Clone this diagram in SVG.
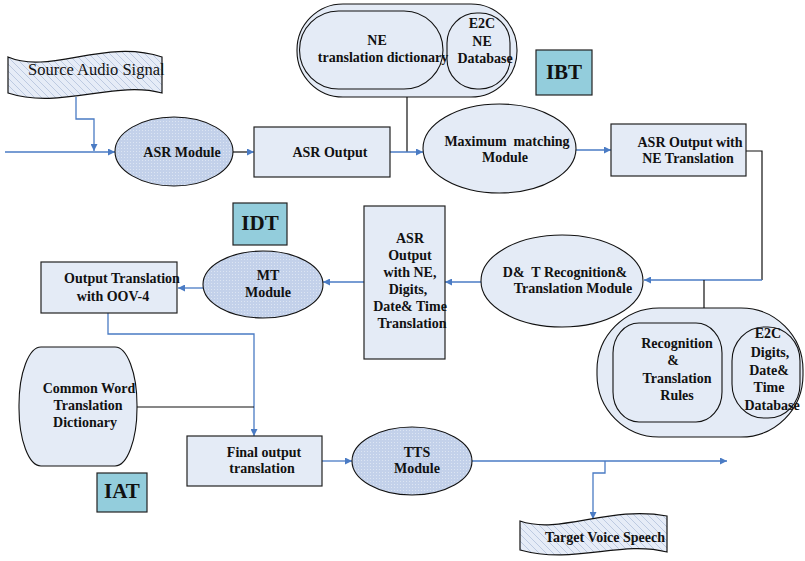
<svg xmlns="http://www.w3.org/2000/svg" width="805" height="561" viewBox="0 0 805 561" font-family="'Liberation Serif', 'DejaVu Serif', serif">
  <defs>
    <style>
      text { font-family: 'Liberation Serif', 'DejaVu Serif', serif; }
      .lbl { font-weight: bold; font-size: 14px; fill: #111; text-anchor: middle; }
      .tag { font-weight: bold; font-size: 21px; fill: #111; text-anchor: middle; }
      .plain { font-size: 16.5px; fill: #111; }
      .box { fill: #E4EBF6; stroke: #222; stroke-width: 1.2; }
      .soft { fill: #E4EBF6; stroke: #111; stroke-width: 1.1; }
      .dotted { fill: url(#dots); stroke: #111; stroke-width: 1.1; }
      .tape { fill: url(#hatch); stroke: #111; stroke-width: 1.2; }
      .teal { fill: #93CDDC; stroke: #222; stroke-width: 1.2; }
      .flow { fill: none; stroke: #4A7BC4; stroke-width: 1.3; }
      .link { fill: none; stroke: #111; stroke-width: 1.2; }
    </style>
    <pattern id="dots" patternUnits="userSpaceOnUse" width="3" height="3">
      <rect width="3" height="3" fill="#C3D1EA"/>
      <rect x="1" y="1" width="1" height="1" fill="#DCE5F3"/>
    </pattern>
    <pattern id="hatch" patternUnits="userSpaceOnUse" width="7" height="7">
      <rect width="7" height="7" fill="#E6ECF7"/>
      <path d="M0,0 L7,7 M-1,6 L1,8 M6,-1 L8,1" stroke="#B2C2DC" stroke-width="0.8"/>
    </pattern>
    <marker id="arr" viewBox="0 0 10 10" refX="10" refY="5" markerWidth="7" markerHeight="7" orient="auto" markerUnits="userSpaceOnUse">
      <path d="M0,0 L10,5 L0,10 Z" fill="#4A7BC4"/>
    </marker>
  </defs>

  <rect width="805" height="561" fill="#FFFFFF"/>

  <!-- connectors -->
  <g id="connectors">
    <path class="flow" d="M5,152 H115" marker-end="url(#arr)"/>
    <path class="flow" d="M76,97 V119 H94 V151" marker-end="url(#arr)"/>
    <path class="link" d="M233,152 H248"/>
    <path class="flow" d="M247,152 H254" marker-end="url(#arr)"/>
    <path class="link" d="M407,97 V152"/>
    <path class="flow" d="M390,152 H423" marker-end="url(#arr)"/>
    <path class="flow" d="M576,150 H611" marker-end="url(#arr)"/>
    <path class="link" d="M746,151 H762 V280"/>
    <path class="flow" d="M762,280 H644" marker-end="url(#arr)"/>
    <path class="link" d="M704,280 V308"/>
    <path class="flow" d="M481,282 H445" marker-end="url(#arr)"/>
    <path class="flow" d="M364,282 H323" marker-end="url(#arr)"/>
    <path class="flow" d="M203,288 H178" marker-end="url(#arr)"/>
    <path class="flow" d="M108,313 V334 H254 V436" marker-end="url(#arr)"/>
    <path class="link" d="M137,407 H254"/>
    <path class="flow" d="M322,461 H352" marker-end="url(#arr)"/>
    <path class="flow" d="M472,461 H727" marker-end="url(#arr)"/>
    <path class="flow" d="M605,461 V473 H593 V519" marker-end="url(#arr)"/>
  </g>

  <!-- source signal -->
  <g id="source-audio">
    <path class="tape" d="M8,57 C50,75 105,38 162,57 L162,93 C115,80 60,110 8,93 Z"/>
    <text class="plain" x="28" y="75">Source Audio Signal</text>
  </g>

  <g id="asr-module">
    <ellipse class="dotted" cx="174" cy="151.5" rx="59" ry="34.5"/>
    <text class="lbl" x="182" y="157">ASR Module</text>
  </g>

  <g id="asr-output">
    <rect class="box" x="254" y="127" width="136" height="50"/>
    <text class="lbl" x="330" y="157">ASR Output</text>
  </g>

  <g id="ne-resources">
    <rect class="soft" x="297" y="4" width="220" height="93" rx="46" ry="46"/>
    <rect class="soft" x="299.5" y="11" width="143.5" height="78" rx="39" ry="39"/>
    <rect class="soft" x="447" y="13" width="63" height="76" rx="30" ry="30"/>
    <text class="lbl" x="377" y="45">NE</text>
    <text class="lbl" x="383" y="62">translation dictionary</text>
    <text class="lbl" x="482" y="28">E2C</text>
    <text class="lbl" x="482" y="46">NE</text>
    <text class="lbl" x="485" y="63">Database</text>
  </g>

  <g id="ibt">
    <rect class="teal" x="536" y="50" width="56" height="45"/>
    <text class="tag" x="564" y="79">IBT</text>
  </g>

  <g id="max-matching">
    <ellipse class="soft" cx="499.5" cy="148.5" rx="76.5" ry="44.5"/>
    <text class="lbl" x="507" y="146" xml:space="preserve">Maximum  matching</text>
    <text class="lbl" x="505" y="162">Module</text>
  </g>

  <g id="asr-ne">
    <rect class="box" x="611" y="124" width="135" height="52"/>
    <text class="lbl" x="690" y="147">ASR Output with</text>
    <text class="lbl" x="688" y="163">NE Translation</text>
  </g>

  <g id="dt-module">
    <ellipse class="soft" cx="562" cy="281" rx="81" ry="46"/>
    <text class="lbl" x="565" y="277" xml:space="preserve">D&amp;  T Recognition&amp;</text>
    <text class="lbl" x="573" y="293">Translation Module</text>
  </g>

  <g id="dt-resources">
    <rect class="soft" x="597" y="308" width="206" height="129" rx="62" ry="62"/>
    <rect class="soft" x="613" y="323" width="109" height="99" rx="26" ry="30"/>
    <rect class="soft" x="732" y="327" width="68" height="91" rx="32" ry="34"/>
    <text class="lbl" x="677" y="348">Recognition</text>
    <text class="lbl" x="673" y="365">&amp;</text>
    <text class="lbl" x="677" y="383">Translation</text>
    <text class="lbl" x="677" y="400">Rules</text>
    <text class="lbl" x="768" y="338">E2C</text>
    <text class="lbl" x="770" y="357">Digits,</text>
    <text class="lbl" x="769" y="375">Date&amp;</text>
    <text class="lbl" x="769" y="392">Time</text>
    <text class="lbl" x="772" y="410">Database</text>
  </g>

  <g id="asr-full">
    <rect class="box" x="364" y="206" width="81" height="153"/>
    <text class="lbl" x="410" y="243">ASR</text>
    <text class="lbl" x="410" y="260">Output</text>
    <text class="lbl" x="410" y="277">with NE,</text>
    <text class="lbl" x="408" y="294">Digits,</text>
    <text class="lbl" x="410" y="311">Date&amp; Time</text>
    <text class="lbl" x="412" y="328">Translation</text>
  </g>

  <g id="idt">
    <rect class="teal" x="233" y="203" width="54" height="42"/>
    <text class="tag" x="260" y="230">IDT</text>
  </g>

  <g id="mt-module">
    <ellipse class="dotted" cx="263" cy="284.5" rx="60" ry="33.5"/>
    <text class="lbl" x="268" y="280">MT</text>
    <text class="lbl" x="268" y="297">Module</text>
  </g>

  <g id="output-oov">
    <rect class="box" x="41" y="262" width="136" height="51"/>
    <text class="lbl" x="122" y="283">Output Translation</text>
    <text class="lbl" x="113" y="301">with OOV-4</text>
  </g>

  <g id="common-dictionary">
    <rect class="soft" x="19" y="347" width="118" height="119" rx="22" ry="58"/>
    <text class="lbl" x="89" y="393">Common Word</text>
    <text class="lbl" x="88" y="410">Translation</text>
    <text class="lbl" x="85" y="427">Dictionary</text>
  </g>

  <g id="final-output">
    <rect class="box" x="187" y="436" width="135" height="50"/>
    <text class="lbl" x="264" y="457">Final output</text>
    <text class="lbl" x="262" y="473">translation</text>
  </g>

  <g id="iat">
    <rect class="teal" x="97" y="473" width="50" height="39"/>
    <text class="tag" x="122" y="498">IAT</text>
  </g>

  <g id="tts-module">
    <ellipse class="dotted" cx="412" cy="461" rx="60" ry="34"/>
    <text class="lbl" x="417" y="457">TTS</text>
    <text class="lbl" x="417" y="473">Module</text>
  </g>

  <g id="target-speech">
    <path class="tape" d="M520,521 C560,535 610,505 667,516 L667,552 C620,540 575,565 520,550 Z"/>
    <text class="lbl" x="605" y="542">Target Voice Speech</text>
  </g>
</svg>
